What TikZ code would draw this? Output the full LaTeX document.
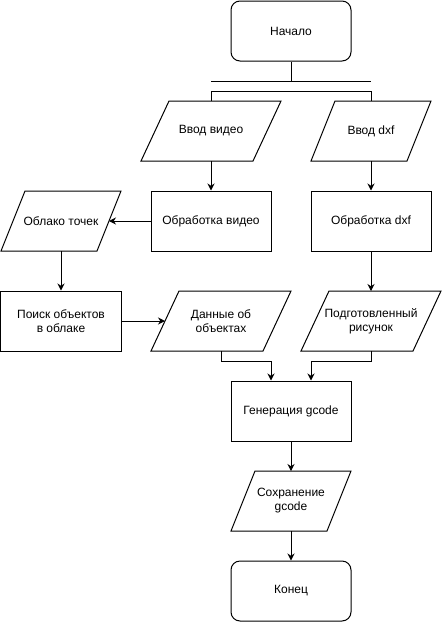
\documentclass[tikz,border=0pt]{standalone}
\usepackage{fontspec}
\setmainfont{Liberation Sans}
\usetikzlibrary{arrows.meta}
\begin{document}
\begin{tikzpicture}[x=1pt,y=-1pt,
  every node/.style={font=\fontsize{12}{14}\selectfont, align=center, line width=1pt},
  line width=1pt,
  term/.style={draw, rounded corners=9pt, minimum width=120pt, minimum height=60pt, inner sep=0pt},
  procbox/.style={draw, rectangle, minimum width=120pt, minimum height=60pt, inner sep=0pt},
  ioA/.style={rectangle, minimum width=120pt, minimum height=60pt, inner sep=0pt, outer sep=0pt},
  ioB/.style={rectangle, minimum width=140pt, minimum height=60pt, inner sep=0pt, outer sep=0pt},
  arr/.style={-{Stealth[length=7pt,width=7pt]}},
  ln/.style={-}
]
\useasboundingbox (-1,-1) rectangle (441,621);

\node[term] (start) at (290,30) {Начало};
\node[ioB] (vin) at (210,130) {Ввод видео};
\node[ioA] (din) at (370,130) {Ввод dxf};
\node[procbox] (vproc) at (210,220) {Обработка видео};
\node[procbox] (dproc) at (370,220) {Обработка dxf};
\node[ioA] (cloud) at (60,220) {Облако точек};
\node[procbox] (search) at (60,320) {Поиск объектов\\в облаке};
\node[ioB] (data) at (220,320) {Данные об\\объектах};
\node[ioB] (pic) at (370,320) {Подготовленный\\рисунок};
\node[procbox] (gen) at (290,410) {Генерация gcode};
\node[ioA] (save) at (290,500) {Сохранение\\gcode};
\node[term] (stop) at (290,590) {Конец};

% parallelogram outlines of the data nodes
\foreach \n/\s in {vin/28,din/24,cloud/24,data/28,pic/28,save/24}
  \draw ([xshift=\s pt]\n.north west) -- (\n.north east)
        -- ([xshift=-\s pt]\n.south east) -- (\n.south west) -- cycle;

\coordinate (barL) at (210,80);
\coordinate (barR) at (370,80);
\coordinate (barM) at (290,80);
\coordinate (forkL) at (210,90);
\coordinate (forkR) at (370,90);

\draw[ln] (start.south) -- (barM);
\draw[ln] (barL) -- (barR);
\draw[ln] (vin.north) -- (forkL) -- (forkR) -- (din.north);

\draw[arr] (vin.south) -- (vproc.north);
\draw[arr] (din.south) -- (dproc.north);
\draw[arr] (vproc.west) -- ([xshift=-12pt]cloud.east);
\draw[arr] (cloud.south) -- (search.north);
\draw[arr] (search.east) -- ([xshift=14pt]data.west);
\draw[arr] (dproc.south) -- (pic.north);
\draw[arr] (data.south) -- ++(0,10) -| ([xshift=-20pt]gen.north);
\draw[arr] (pic.south) -- ++(0,10) -| ([xshift=20pt]gen.north);
\draw[arr] (gen.south) -- (save.north);
\draw[arr] (save.south) -- (stop.north);
\end{tikzpicture}
\end{document}
